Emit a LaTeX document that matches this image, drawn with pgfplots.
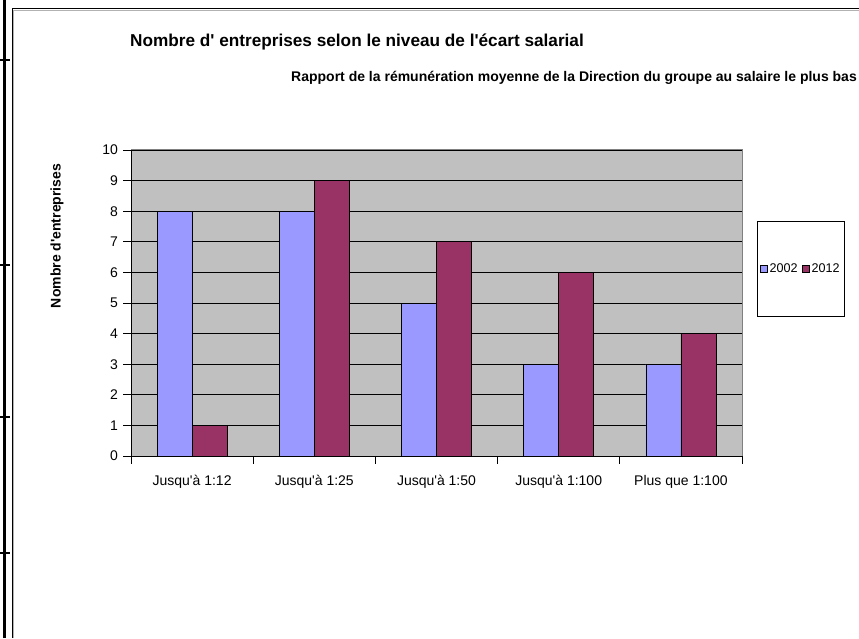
\documentclass[border=0pt]{standalone}
\usepackage{pgfplots}
\pgfplotsset{compat=1.18}
\usepackage{fontspec}
\setmainfont{Liberation Sans}
\definecolor{cblue}{HTML}{9999FF}
\definecolor{cred}{HTML}{993366}
\definecolor{cbg}{HTML}{C0C0C0}
\newcommand\q{\textquotesingle}
\begin{document}
\begin{tikzpicture}
\useasboundingbox (0pt,0pt) rectangle (859pt,638pt);
\fill[white] (0pt,0pt) rectangle (859pt,638pt);
\draw[line width=3pt] (4.5pt,0pt) -- (4.5pt,638pt);
\foreach \yy in {578,373,221,85} \draw[line width=2pt] (0pt,\yy pt) -- (10pt,\yy pt);
\draw[line width=1pt] (12pt,0pt) -- (12pt,629pt) -- (859pt,629pt);
\draw[line width=0.6pt, gray!60] (13.2pt,0pt) -- (13.2pt,627.8pt) -- (859pt,627.8pt);
\node[anchor=base west, font=\bfseries\fontsize{17.2}{20}\selectfont, inner sep=0pt] at (130pt,591pt) {Nombre d\q{} entreprises selon le niveau de l\q{}écart salarial};
\node[anchor=base east, font=\bfseries\fontsize{14}{17}\selectfont, inner sep=0pt] at (857pt,556pt) {Rapport de la rémunération moyenne de la Direction du groupe au salaire le plus bas};
\node[rotate=90, font=\bfseries\fontsize{14}{17}\selectfont, inner sep=0pt] at (57pt,402pt) {Nombre d\q{}entreprises};
\begin{axis}[
  at={(131pt,182pt)}, anchor=south west,
  scale only axis, width=611pt, height=306pt,
  ybar=0pt, bar width=35pt,
  xmin=-0.5, xmax=4.5, ymin=0, ymax=10,
  ytick={0,1,...,10},
  xtick={-0.5,0.5,...,4.5}, xticklabels={},
  extra x ticks={0,1,2,3,4},
  extra x tick labels={Jusqu\q{}à 1:12,Jusqu\q{}à 1:25,Jusqu\q{}à 1:50,Jusqu\q{}à 1:100,Plus que 1:100},
  extra x tick style={major tick length=0pt, tick label style={yshift=-16pt}},
  tick align=outside, major tick length=7.5pt,
  yticklabel style={xshift=-2pt},
  tick style={black, line width=0.8pt},
  axis x line*=bottom, axis y line*=left,
  axis line style={-, black, line width=0.8pt},
  axis background/.style={fill=cbg, draw=gray, line width=1pt},
  ymajorgrids, grid style={black, line width=0.8pt},
  tick label style={font=\fontsize{14}{17}\selectfont},
  /pgf/number format/assume math mode=true,
  legend columns=2,
  legend style={at={(axis description cs:1.0245,0.611)}, anchor=west, draw=black, line width=0.8pt,
    inner xsep=3pt, inner ysep=40pt, font=\fontsize{12.6}{14}\selectfont,
    nodes={inner xsep=1.5pt},
    /tikz/every even column/.append style={column sep=3pt}},
  legend image code/.code={\draw[#1, draw=black, line width=0.8pt] (0pt,-3.5pt) rectangle (7pt,3.5pt);},
]
\addplot[fill=cblue, draw=black, line width=0.8pt] coordinates {(0,8) (1,8) (2,5) (3,3) (4,3)};
\addplot[fill=cred, draw=black, line width=0.8pt] coordinates {(0,1) (1,9) (2,7) (3,6) (4,4)};
\legend{2002,2012}
\end{axis}
\end{tikzpicture}
\end{document}
